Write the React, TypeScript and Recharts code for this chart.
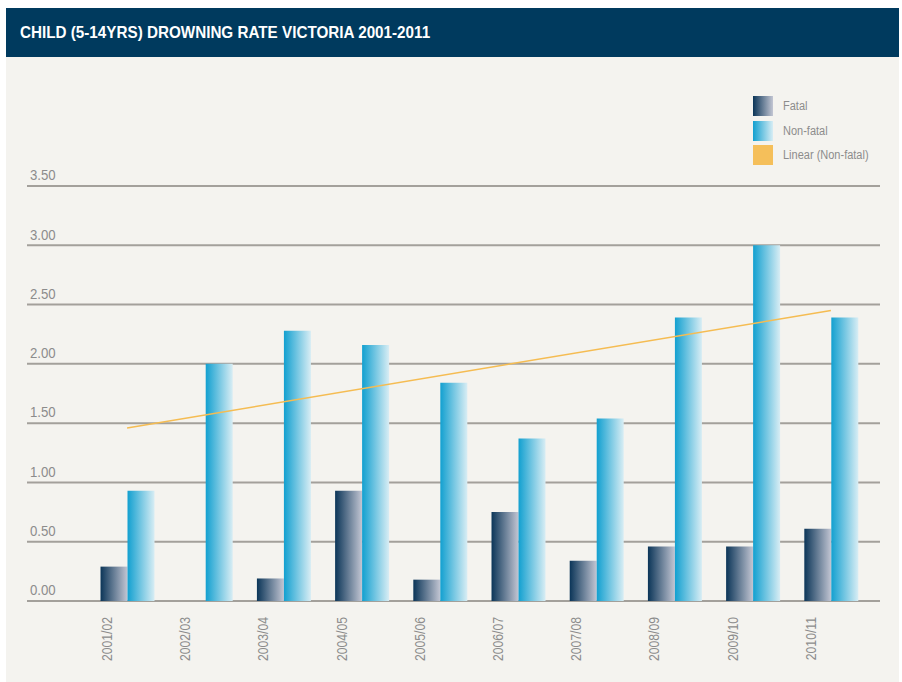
import { ComposedChart, Bar, Line, XAxis, YAxis, CartesianGrid } from "recharts";

const years = ["2001/02", "2002/03", "2003/04", "2004/05", "2005/06", "2006/07", "2007/08", "2008/09", "2009/10", "2010/11"];
const fatal = [0.29, 0, 0.19, 0.93, 0.18, 0.75, 0.34, 0.46, 0.46, 0.61];
const nonFatal = [0.93, 2.0, 2.28, 2.16, 1.84, 1.37, 1.54, 2.39, 3.0, 2.39];
// trend line end points, joined straight across
const trend = [1.46, null, null, null, null, null, null, null, null, 2.45];
const yTicks = [0, 0.5, 1, 1.5, 2, 2.5, 3, 3.5];

const data = years.map((year, i) => ({
  year,
  fatal: fatal[i],
  nonFatal: nonFatal[i],
  trend: trend[i],
}));

const FONT = "'Liberation Sans', Arial, sans-serif";
const GREY = "#8c8c8c";

const XTick = (props: any) => {
  const { x, y, payload } = props;
  return (
    <g transform={`translate(${x - 20},${y + 16}) rotate(-90) scale(0.86,1)`}>
      <text textAnchor="end" dy="0.35em" fill={GREY} fontSize={14.2} fontFamily={FONT}>
        {payload.value}
      </text>
    </g>
  );
};

const YTick = (props: any) => {
  const { x, y, payload } = props;
  return (
    <g transform={`translate(${x + 3},${y - 11}) scale(0.88,1)`}>
      <text textAnchor="start" dy="0.35em" fill={GREY} fontSize={15} fontFamily={FONT}>
        {Number(payload.value).toFixed(2)}
      </text>
    </g>
  );
};

const legendItems = [
  { label: "Fatal", bg: "linear-gradient(to right, #0b3558, #c3c6d3)" },
  { label: "Non-fatal", bg: "linear-gradient(to right, #12a0d0, #d8edf4)" },
  { label: "Linear (Non-fatal)", bg: "#f5bf5a" },
];

export default function App() {
  return (
    <div style={{ position: "absolute", left: 0, top: 0, width: 902, height: 682, background: "#ffffff" }}>
      <div style={{ position: "absolute", left: 6, top: 8, width: 893, height: 49, background: "#003a5e" }}>
        <div
          style={{
            position: "absolute",
            left: 14,
            top: 0,
            lineHeight: "49px",
            color: "#ffffff",
            fontFamily: FONT,
            fontWeight: "bold",
            fontSize: 16.5,
            whiteSpace: "nowrap",
            transform: "scaleX(0.923)",
            transformOrigin: "left center",
          }}
        >
          CHILD (5-14YRS) DROWNING RATE VICTORIA 2001-2011
        </div>
      </div>
      <div style={{ position: "absolute", left: 6, top: 57, width: 893, height: 625, background: "#f4f3ef" }} />
      <div style={{ position: "absolute", left: 753, top: 94, fontFamily: FONT }}>
        {legendItems.map((it) => (
          <div key={it.label} style={{ display: "flex", alignItems: "center", height: 24.5 }}>
            <div style={{ width: 20, height: 20, background: it.bg, marginRight: 10 }} />
            <span
              style={{
                color: GREY,
                fontSize: 12.5,
                whiteSpace: "nowrap",
                display: "inline-block",
                transform: "scaleX(0.88)",
                transformOrigin: "left center",
              }}
            >
              {it.label}
            </span>
          </div>
        ))}
      </div>
      <div style={{ position: "absolute", left: 0, top: 0 }}>
        <ComposedChart
          width={902}
          height={682}
          data={data}
          margin={{ top: 186, right: 22, bottom: 80, left: 26 }}
          barCategoryGap="16%"
          barGap={0}
        >
          <defs>
            <linearGradient id="fatalGrad" x1="0" y1="0" x2="1" y2="0">
              <stop offset="0%" stopColor="#0b3558" />
              <stop offset="100%" stopColor="#c3c6d3" />
            </linearGradient>
            <linearGradient id="nonFatalGrad" x1="0" y1="0" x2="1" y2="0">
              <stop offset="0%" stopColor="#12a0d0" />
              <stop offset="100%" stopColor="#d8edf4" />
            </linearGradient>
          </defs>
          <CartesianGrid vertical={false} stroke="#a3a09b" strokeWidth={2} />
          <XAxis
            dataKey="year"
            height={1}
            axisLine={false}
            tickLine={false}
            tickSize={0}
            tickMargin={0}
            padding={{ left: 61, right: 10 }}
            tick={<XTick />}
            interval={0}
          />
          <YAxis
            domain={[0, 3.5]}
            ticks={yTicks}
            width={1}
            axisLine={false}
            tickLine={false}
            tickSize={0}
            tickMargin={0}
            tick={<YTick />}
            interval={0}
          />
          <Bar dataKey="fatal" name="Fatal" fill="url(#fatalGrad)" isAnimationActive={false} />
          <Bar dataKey="nonFatal" name="Non-fatal" fill="url(#nonFatalGrad)" isAnimationActive={false} />
          <Line
            dataKey="trend"
            name="Linear (Non-fatal)"
            type="linear"
            stroke="#f5bc52"
            strokeWidth={1.5}
            dot={false}
            activeDot={false}
            connectNulls
            isAnimationActive={false}
          />
        </ComposedChart>
      </div>
    </div>
  );
}
